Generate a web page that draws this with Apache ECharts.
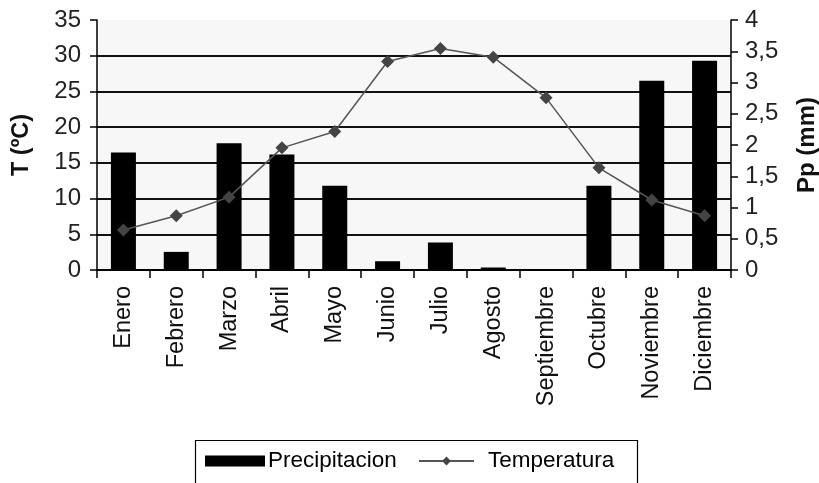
<!DOCTYPE html>
<html>
<head>
<meta charset="utf-8">
<script src="https://cdn.jsdelivr.net/npm/echarts@6/dist/echarts.min.js"></script>
<style>
html,body{margin:0;padding:0;background:#fff;}
#c{width:819px;height:483px;}
</style>
</head>
<body>
<div id="c"></div>
<script>
var months = ['Enero','Febrero','Marzo','Abril','Mayo','Junio','Julio','Agosto','Septiembre','Octubre','Noviembre','Diciembre'];
var precipitacion = [1.88, 0.29, 2.03, 1.85, 1.35, 0.14, 0.44, 0.04, 0, 1.35, 3.03, 3.35];
var temperatura = [5.6, 7.6, 10.2, 17.1, 19.4, 29.2, 31.0, 29.8, 24.1, 14.3, 9.8, 7.6];
var leftTicks = ['0','5','10','15','20','25','30','35'];
var rightTicks = ['0','0,5','1','1,5','2','2,5','3','3,5','4'];

var FONT = 'Liberation Sans, Arial, sans-serif';
var chart = echarts.init(document.getElementById('c'), null, {renderer:'canvas'});
chart.setOption({
  animation: false,
  backgroundColor: '#ffffff',
  textStyle: {fontFamily: FONT},
  grid: {left: 97, right: 88, top: 20, bottom: 213, containLabel: false, outerBoundsMode: 'none',
         show: true, backgroundColor: '#f7f7f7', borderWidth: 0},
  graphic: [{
    type: 'rect', left: 193, top: 438, z: 100, silent: true,
    shape: {width: 442, height: 70},
    style: {fill: 'none', stroke: '#000', lineWidth: 1.2}
  }],
  legend: [{
    left: 205, top: 448, padding: 0,
    itemWidth: 60, itemHeight: 11,
    textStyle: {fontSize: 22.5, lineHeight: 26, color: '#000', fontFamily: FONT, padding: [0,0,0,-2]},
    data: [{name: 'Precipitacion', icon: 'rect'}]
  },{
    left: 418, top: 448, padding: 0,
    itemWidth: 55, itemHeight: 11,
    textStyle: {fontSize: 22.5, lineHeight: 26, color: '#000', fontFamily: FONT, padding: [0,0,0,9]},
    data: [{name: 'Temperatura'}]
  }],
  xAxis: {
    type: 'category', data: months, boundaryGap: true,
    axisLine: {show: true, lineStyle: {color: '#000', width: 1.5}},
    axisTick: {show: true, length: 8, lineStyle: {color: '#000', width: 1.5}},
    axisLabel: {rotate: 90, fontSize: 23.5, color: '#111', margin: 16, interval: 0, fontFamily: FONT},
    splitLine: {show: false}
  },
  yAxis: [{
    type: 'value', min: 0, max: 35, interval: 5,
    name: 'T (ºC)', nameLocation: 'middle', nameGap: 63, nameRotate: 90,
    nameTextStyle: {fontSize: 23.5, fontWeight: 'bold', color: '#111', fontFamily: FONT},
    axisLine: {show: true, lineStyle: {color: '#000', width: 1.5}},
    axisTick: {show: true, length: 7, lineStyle: {color: '#000', width: 1.5}},
    axisLabel: {fontSize: 24, color: '#222', margin: 16, fontFamily: FONT,
      formatter: function(v){ return leftTicks[Math.round(v/5)]; }},
    splitLine: {show: true, lineStyle: {color: ['#000','#111','#111','#111','#111','#111','#111','rgba(0,0,0,0)'], width: 2}}
  },{
    type: 'value', min: 0, max: 4, interval: 0.5,
    name: 'Pp (mm)', nameLocation: 'middle', nameGap: 64, nameRotate: 90,
    nameTextStyle: {fontSize: 24, fontWeight: 'bold', color: '#111', fontFamily: FONT},
    axisLine: {show: true, lineStyle: {color: '#000', width: 1.5}},
    axisTick: {show: true, length: 7, lineStyle: {color: '#000', width: 1.5}},
    axisLabel: {fontSize: 24, color: '#222', margin: 14, fontFamily: FONT,
      formatter: function(v){ return rightTicks[Math.round(v/0.5)]; }},
    splitLine: {show: false}
  }],
  series: [{
    name: 'Precipitacion', type: 'bar', yAxisIndex: 1, data: precipitacion,
    barWidth: 25, itemStyle: {color: '#000'}
  },{
    name: 'Temperatura', type: 'line', yAxisIndex: 0, data: temperatura,
    symbol: 'diamond', symbolSize: 13, showSymbol: true,
    lineStyle: {color: '#555', width: 1.5},
    itemStyle: {color: '#444'}
  }]
});
</script>
</body>
</html>
